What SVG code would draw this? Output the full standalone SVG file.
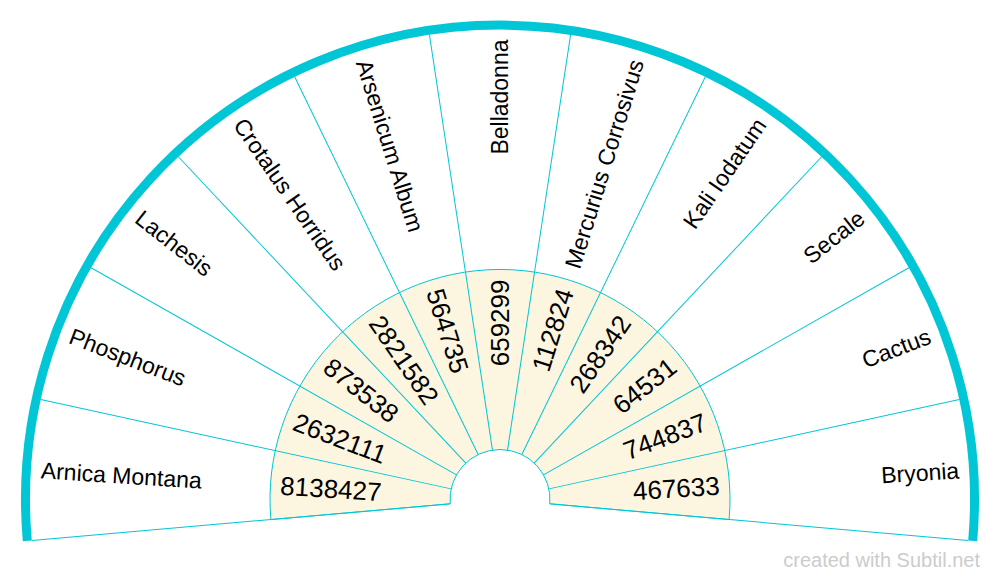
<svg xmlns="http://www.w3.org/2000/svg" width="1000" height="581" viewBox="0 0 1000 581">
<style>
.lbl{font-family:"Liberation Sans",Arial,sans-serif;font-size:23px;fill:#000}
.num{font-family:"Liberation Sans",Arial,sans-serif;font-size:26px;fill:#000}
.l{text-anchor:start}
.r{text-anchor:end}
.div{stroke:#00c6d6;stroke-width:1;fill:none}
.wm{font-family:"Liberation Sans",Arial,sans-serif;font-size:20px;fill:#cccccc;text-anchor:end}
</style>
<rect width="1000" height="581" fill="#ffffff"/>
<g id="rings">
<path d="M 31.79 540.46 A 470 470 0 1 1 968.21 540.46 L 549.81 503.86 A 50 50 0 1 0 450.19 503.86 Z" fill="#ffffff"/>
<path d="M 270.88 519.55 A 230 230 0 1 1 729.12 519.55 L 549.81 503.86 A 50 50 0 1 0 450.19 503.86 Z" fill="#fcf6e0" stroke="#00c6d6" stroke-width="1"/>
<path d="M 27.30 540.86 A 474.5 474.5 0 1 1 972.70 540.86" fill="none" stroke="#00c6d6" stroke-width="9"/>
</g>
<g id="connectors">
<line class="div" x1="500" y1="449.5" x2="500" y2="29.5" transform="rotate(-95 500 499.5)"/>
<line class="div" x1="500" y1="449.5" x2="500" y2="29.5" transform="rotate(-77.7273 500 499.5)"/>
<line class="div" x1="500" y1="449.5" x2="500" y2="29.5" transform="rotate(-60.4545 500 499.5)"/>
<line class="div" x1="500" y1="449.5" x2="500" y2="29.5" transform="rotate(-43.1818 500 499.5)"/>
<line class="div" x1="500" y1="449.5" x2="500" y2="29.5" transform="rotate(-25.9091 500 499.5)"/>
<line class="div" x1="500" y1="449.5" x2="500" y2="29.5" transform="rotate(-8.6364 500 499.5)"/>
<line class="div" x1="500" y1="449.5" x2="500" y2="29.5" transform="rotate(8.6364 500 499.5)"/>
<line class="div" x1="500" y1="449.5" x2="500" y2="29.5" transform="rotate(25.9091 500 499.5)"/>
<line class="div" x1="500" y1="449.5" x2="500" y2="29.5" transform="rotate(43.1818 500 499.5)"/>
<line class="div" x1="500" y1="449.5" x2="500" y2="29.5" transform="rotate(60.4545 500 499.5)"/>
<line class="div" x1="500" y1="449.5" x2="500" y2="29.5" transform="rotate(77.7273 500 499.5)"/>
<line class="div" x1="500" y1="449.5" x2="500" y2="29.5" transform="rotate(95 500 499.5)"/>
</g>
<g id="sector-arnica-montana" transform="rotate(-86.3636 500 499.5)">
<text class="lbl l" transform="translate(500 39.5) rotate(90)" dy=".35em">Arnica Montana</text>
<text class="num l" transform="translate(500 279.5) rotate(90)" dy=".35em">8138427</text>
</g>
<g id="sector-phosphorus" transform="rotate(-69.0909 500 499.5)">
<text class="lbl l" transform="translate(500 39.5) rotate(90)" dy=".35em">Phosphorus</text>
<text class="num l" transform="translate(500 279.5) rotate(90)" dy=".35em">2632111</text>
</g>
<g id="sector-lachesis" transform="rotate(-51.8182 500 499.5)">
<text class="lbl l" transform="translate(500 39.5) rotate(90)" dy=".35em">Lachesis</text>
<text class="num l" transform="translate(500 279.5) rotate(90)" dy=".35em">873538</text>
</g>
<g id="sector-crotalus-horridus" transform="rotate(-34.5455 500 499.5)">
<text class="lbl l" transform="translate(500 39.5) rotate(90)" dy=".35em">Crotalus Horridus</text>
<text class="num l" transform="translate(500 279.5) rotate(90)" dy=".35em">2821582</text>
</g>
<g id="sector-arsenicum-album" transform="rotate(-17.2727 500 499.5)">
<text class="lbl l" transform="translate(500 39.5) rotate(90)" dy=".35em">Arsenicum Album</text>
<text class="num l" transform="translate(500 279.5) rotate(90)" dy=".35em">564735</text>
</g>
<g id="sector-belladonna">
<text class="lbl r" transform="translate(500 39.5) rotate(-90)" dy=".35em">Belladonna</text>
<text class="num r" transform="translate(500 279.5) rotate(-90)" dy=".35em">659299</text>
</g>
<g id="sector-mercurius-corrosivus" transform="rotate(17.2727 500 499.5)">
<text class="lbl r" transform="translate(500 39.5) rotate(-90)" dy=".35em">Mercurius Corrosivus</text>
<text class="num r" transform="translate(500 279.5) rotate(-90)" dy=".35em">112824</text>
</g>
<g id="sector-kali-iodatum" transform="rotate(34.5455 500 499.5)">
<text class="lbl r" transform="translate(500 39.5) rotate(-90)" dy=".35em">Kali Iodatum</text>
<text class="num r" transform="translate(500 279.5) rotate(-90)" dy=".35em">268342</text>
</g>
<g id="sector-secale" transform="rotate(51.8182 500 499.5)">
<text class="lbl r" transform="translate(500 39.5) rotate(-90)" dy=".35em">Secale</text>
<text class="num r" transform="translate(500 279.5) rotate(-90)" dy=".35em">64531</text>
</g>
<g id="sector-cactus" transform="rotate(69.0909 500 499.5)">
<text class="lbl r" transform="translate(500 39.5) rotate(-90)" dy=".35em">Cactus</text>
<text class="num r" transform="translate(500 279.5) rotate(-90)" dy=".35em">744837</text>
</g>
<g id="sector-bryonia" transform="rotate(86.3636 500 499.5)">
<text class="lbl r" transform="translate(500 39.5) rotate(-90)" dy=".35em">Bryonia</text>
<text class="num r" transform="translate(500 279.5) rotate(-90)" dy=".35em">467633</text>
</g>
<text class="wm" x="980" y="567">created with Subtil.net</text>
</svg>
